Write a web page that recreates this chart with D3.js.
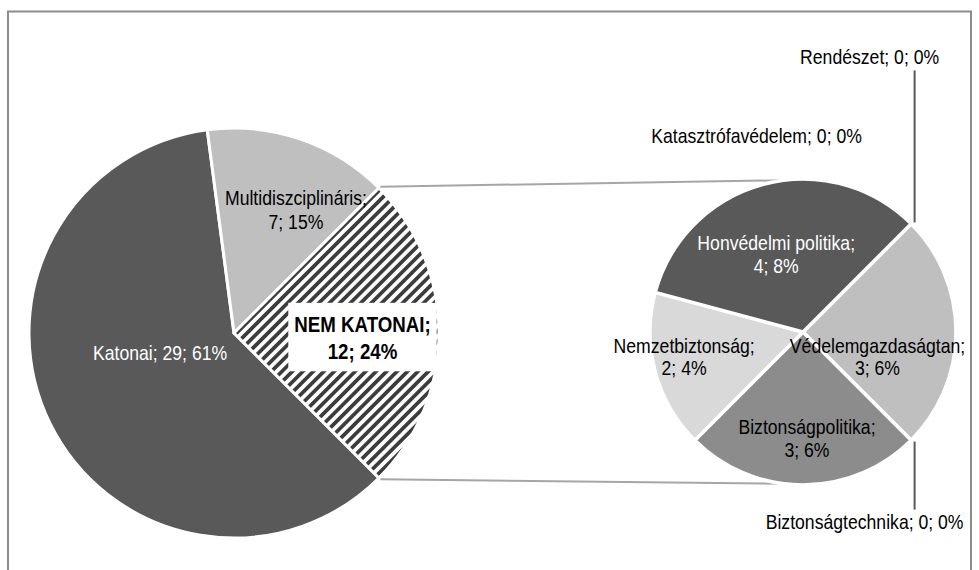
<!DOCTYPE html>
<html>
<head>
<meta charset="utf-8">
<script src="https://cdn.jsdelivr.net/npm/d3@7"></script>
<style>
  html, body { margin: 0; padding: 0; background: #ffffff; }
  svg { display: block; }
  text { font-family: "Liberation Sans", Arial, sans-serif; }
</style>
</head>
<body>
<svg id="chart" width="979" height="570"></svg>
<script>
// ---------- DATA ----------
const mainCategories = ["Katonai", "Multidiszciplináris", "NEM KATONAI"];
const mainValues = [29, 7, 12];
const mainPercents = ["61%", "15%", "24%"];

const subCategories = ["Rendészet", "Védelemgazdaságtan", "Biztonságtechnika", "Biztonságpolitika", "Nemzetbiztonság", "Honvédelmi politika", "Katasztrófavédelem"];
const subValues = [0, 3, 0, 3, 2, 4, 0];
const subPercents = ["0%", "6%", "0%", "6%", "4%", "8%", "0%"];

// ---------- LAYOUT / STYLE ----------
const W = 979, H = 570;
const main = { cx: 234, cy: 333, r: 205 };
const sub = { cx: 803, cy: 332, r: 153 };
const deg = Math.PI / 180;

const mainFill = ["#595959", "#bfbfbf", "url(#hatch)"];
const mainTextFill = ["#ffffff", "#000000", "#000000"];
const mainLabelNudge = [[18, -26], [29, -26], [26, 5]];
const mainLabelLines = [d => [`${d.cat}; ${d.v}; ${d.p}`], d => [`${d.cat};`, `${d.v}; ${d.p}`], d => [`${d.cat};`, `${d.v}; ${d.p}`]];

const subFill = ["#bfbfbf", "#bfbfbf", "#8c8c8c", "#8c8c8c", "#d9d9d9", "#595959", "#595959"];
const subTextFill = ["#000", "#000", "#000", "#000", "#000", "#ffffff", "#000"];
const subLabelNudge = [null, [-2, 25], null, [4, 30], [-45, 5], [-7, -4], null];
// zero-value slices: leader length (0 = none) and label offset from the outer point
const zeroLabel = {
  0: { leader: -152, dx: -43, dy: -166 },
  2: { leader: 68, dx: -48, dy: 80 },
  6: { leader: 0, dx: -156, dy: -87 }
};

const fontSize = 20.5;
const lineH = 23.5;
const narrow = 0.86;      // horizontal condensing (narrow typeface look)
const narrowBold = 0.87;

const svg = d3.select("#chart");

// pattern
const defs = svg.append("defs");
const P = 7.4;
const pat = defs.append("pattern")
  .attr("id", "hatch").attr("patternUnits", "userSpaceOnUse")
  .attr("width", P).attr("height", P)
  .attr("patternTransform", "rotate(45)");
pat.append("rect").attr("width", P).attr("height", P).attr("fill", "#ffffff");
pat.append("rect").attr("x", 0).attr("y", 0).attr("width", 3.7).attr("height", P).attr("fill", "#3c3c3c");

// border frame
svg.append("path")
  .attr("d", `M8,${H + 5} L8,11.5 L971,11.5 L971,${H + 5}`)
  .attr("fill", "none").attr("stroke", "#8c8c8c").attr("stroke-width", 2);

// ---------- MAIN PIE ----------
const mainData = mainCategories.map((c, i) => ({ cat: c, v: mainValues[i], p: mainPercents[i], i }));
const pieMain = d3.pie().value(d => d.v).sort(null)
  .startAngle(135 * deg).endAngle(135 * deg + 2 * Math.PI);
const mainArcs = pieMain(mainData);
const arcMain = d3.arc().innerRadius(0).outerRadius(main.r);

const gMain = svg.append("g").attr("transform", `translate(${main.cx},${main.cy})`);
gMain.selectAll("path").data(mainArcs).join("path")
  .attr("d", arcMain)
  .attr("fill", d => mainFill[d.data.i])
  .attr("stroke", "#ffffff").attr("stroke-width", 3).attr("stroke-linejoin", "round");

// ---------- SUB PIE ----------
const subData = subCategories.map((c, i) => ({ cat: c, v: subValues[i], p: subPercents[i], i }));
const pieSub = d3.pie().value(d => d.v).sort(null)
  .startAngle(45 * deg).endAngle(45 * deg + 2 * Math.PI);
const subArcs = pieSub(subData);
const arcSub = d3.arc().innerRadius(0).outerRadius(sub.r);

// connector lines (from split slice edges to the second pie)
const split = mainArcs[2];
const pt = (cx, cy, r, a) => [cx + r * Math.sin(a), cy - r * Math.cos(a)];
const pA = pt(main.cx, main.cy, main.r + 2, split.startAngle);
const pB = pt(main.cx, main.cy, main.r + 2, split.endAngle);
const qA = pt(sub.cx, sub.cy, sub.r, -7.5 * deg);
const qB = pt(sub.cx, sub.cy, sub.r, 187.5 * deg);
svg.append("g").selectAll("line").data([[pA, qA], [pB, qB]]).join("line")
  .attr("x1", d => d[0][0]).attr("y1", d => d[0][1])
  .attr("x2", d => d[1][0]).attr("y2", d => d[1][1])
  .attr("stroke", "#a6a6a6").attr("stroke-width", 2);

const gSub = svg.append("g").attr("transform", `translate(${sub.cx},${sub.cy})`);
gSub.selectAll("path").data(subArcs.filter(d => d.data.v > 0)).join("path")
  .attr("d", arcSub)
  .attr("fill", d => subFill[d.data.i])
  .attr("stroke", "#ffffff").attr("stroke-width", 3.5).attr("stroke-linejoin", "round");

// ---------- LABELS ----------
function multiline(g, x, y, lines, fill, weight, size, lh, sx) {
  const t = g.append("text")
    .attr("transform", `translate(${x},0) scale(${sx},1)`)
    .attr("text-anchor", "middle")
    .attr("fill", fill)
    .attr("font-size", size)
    .attr("font-weight", weight);
  const n = lines.length;
  lines.forEach((s, k) => {
    t.append("tspan").attr("x", 0)
      .attr("y", y + (k - (n - 1) / 2) * lh)
      .attr("dy", "0.35em")
      .text(s);
  });
  return t;
}

mainArcs.forEach(a => {
  const c = arcMain.centroid(a);
  const i = a.data.i;
  const x = main.cx + c[0] + mainLabelNudge[i][0];
  const y = main.cy + c[1] + mainLabelNudge[i][1];
  const lines = mainLabelLines[i](a.data);
  if (i === 2) {
    const box = svg.append("rect").attr("fill", "#ffffff");
    const t = multiline(svg, x, y, lines, mainTextFill[i], "bold", 21.5, 27, narrowBold);
    const bb = t.node().getBBox();
    const w = bb.width * narrowBold;
    box.attr("x", x - w / 2 - 6).attr("y", bb.y - 10)
      .attr("width", w + 12).attr("height", bb.height + 18);
  } else {
    multiline(svg, x, y, lines, mainTextFill[i], "normal", fontSize, lineH, narrow);
  }
});

subArcs.forEach(a => {
  const i = a.data.i;
  if (a.data.v > 0) {
    const c = arcSub.centroid(a);
    const x = sub.cx + c[0] + subLabelNudge[i][0];
    const y = sub.cy + c[1] + subLabelNudge[i][1];
    multiline(svg, x, y, [`${a.data.cat};`, `${a.data.v}; ${a.data.p}`], subTextFill[i], "normal", fontSize, lineH - 1, narrow);
  } else {
    const z = zeroLabel[i];
    const o = pt(sub.cx, sub.cy, sub.r + 2, a.startAngle);
    if (z.leader !== 0) {
      svg.append("line")
        .attr("x1", o[0] + 2).attr("y1", o[1])
        .attr("x2", o[0] + 2).attr("y2", o[1] + z.leader)
        .attr("stroke", "#595959").attr("stroke-width", 2);
    }
    multiline(svg, o[0] + z.dx, o[1] + z.dy, [`${a.data.cat}; ${a.data.v}; ${a.data.p}`], "#000", "normal", fontSize, lineH, narrow);
  }
});
</script>
</body>
</html>
